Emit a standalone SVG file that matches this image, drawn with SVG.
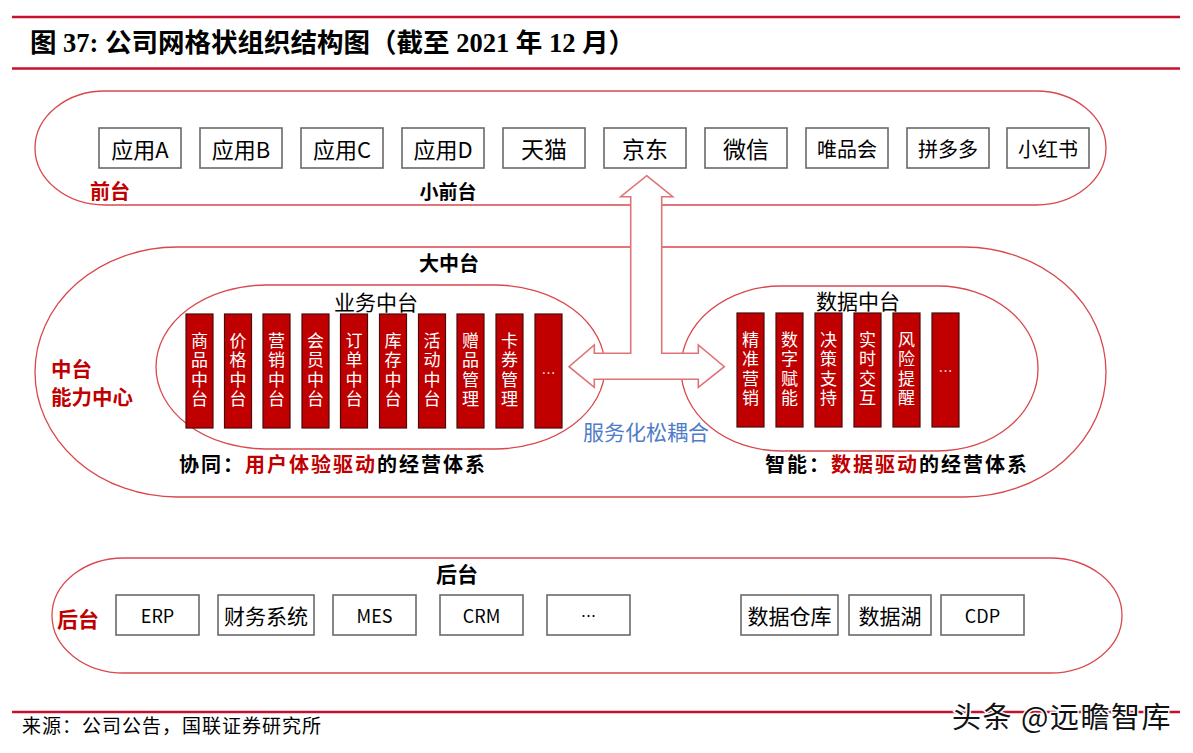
<svg xmlns="http://www.w3.org/2000/svg" width="1193" height="753" viewBox="0 0 1193 753">
<style>
.rule{stroke:#C8102E;stroke-width:2.5}
.stad{fill:none;stroke:#D9484C;stroke-width:1.3}
.box{fill:#fff;stroke:#6a6a6a;stroke-width:1.6}
.bar{fill:#C00000;stroke:#4a0a0a;stroke-width:1.2}
.t{font-family:"Noto Sans CJK SC","Noto Sans",sans-serif;fill:#000;text-anchor:middle;dominant-baseline:central}
.vt{font-family:"Noto Sans CJK SC","Noto Sans",sans-serif;fill:#fff;font-size:17px;writing-mode:vertical-rl;text-anchor:middle;letter-spacing:2.5px}
.dots{font-family:"Noto Sans CJK SC","Noto Sans",sans-serif;fill:#fff;font-size:14px;text-anchor:middle;dominant-baseline:central}
.lbl{font-family:"Noto Sans CJK SC","Noto Sans",sans-serif;font-weight:bold;fill:#000;dominant-baseline:central}
.red{fill:#C00000}
.arrow{fill:#fff;stroke:#E07377;stroke-width:1.6;stroke-linejoin:miter}
</style>
<rect width="1193" height="753" fill="#fff"/>
<g id="title">
<line class="rule" x1="12" y1="17" x2="1180" y2="17"/>
<text x="30" y="52" font-family="'Liberation Serif','Noto Sans CJK SC',serif" font-weight="bold" font-size="26.5" fill="#000">图 37: 公司网格状组织结构图（截至 2021 年 12 月）</text>
<line class="rule" x1="12" y1="68.5" x2="1180" y2="68.5"/>
</g>
<g id="front">
<rect class="stad" x="35" y="91" width="1071" height="114" rx="70" ry="57"/>
<text class="lbl red" x="90" y="190" font-size="20">前台</text>
<text class="lbl" x="448" y="190" font-size="19" text-anchor="middle">小前台</text>
</g>
<g id="middle">
<rect class="stad" x="35" y="247" width="1071" height="250" rx="142" ry="125"/>
<text class="lbl" x="449" y="262" font-size="20" text-anchor="middle">大中台</text>
<text class="lbl red" x="51" y="368" font-size="20.5">中台</text>
<text class="lbl red" x="51" y="396" font-size="20.5">能力中心</text>
</g>
<g id="back">
<rect class="stad" x="52" y="558" width="1070" height="115" rx="72" ry="57.5"/>
<text class="lbl" x="457" y="573" font-size="21" text-anchor="middle">后台</text>
<text class="lbl red" x="57" y="618" font-size="21">后台</text>
</g>
<g id="biz">
<rect class="stad" x="156" y="285" width="449" height="164" rx="110" ry="82"/>
<text class="t" x="376" y="301" font-size="21">业务中台</text>
</g>
<g id="data">
<rect class="stad" x="681" y="286" width="357" height="165" rx="100" ry="82"/>
<text class="t" x="858" y="300" font-size="21">数据中台</text>
</g>
<g id="connectors">
<polygon class="arrow" points="646.7,175.7 672.7,196.7 661.7,196.7 661.7,353.3 698.3,353.3 698.3,345 724.3,366.7 698.3,387.3 698.3,379.3 594.3,379.3 594.3,387.3 569,366.7 594.3,345 594.3,353.3 630.7,353.3 630.7,196.7 620.7,196.7"/>
<text x="646" y="431" font-family="'Noto Sans CJK SC',sans-serif" font-size="21" fill="#4F7CC9" text-anchor="middle" dominant-baseline="central">服务化松耦合</text>
</g>
<g id="front-apps">
<g id="app-a"><rect class="box" x="99" y="128" width="82" height="40"/><text class="t" x="140" y="148" font-size="22">应用A</text></g>
<g id="app-b"><rect class="box" x="200" y="128" width="82" height="40"/><text class="t" x="241" y="148" font-size="22">应用B</text></g>
<g id="app-c"><rect class="box" x="301" y="128" width="82" height="40"/><text class="t" x="342" y="148" font-size="22">应用C</text></g>
<g id="app-d"><rect class="box" x="402" y="128" width="82" height="40"/><text class="t" x="443" y="148" font-size="22">应用D</text></g>
<g id="tmall"><rect class="box" x="503" y="128" width="82" height="40"/><text class="t" x="544" y="148" font-size="23">天猫</text></g>
<g id="jd"><rect class="box" x="604" y="128" width="82" height="40"/><text class="t" x="645" y="148" font-size="23">京东</text></g>
<g id="wechat"><rect class="box" x="705" y="128" width="82" height="40"/><text class="t" x="746" y="148" font-size="23">微信</text></g>
<g id="vip"><rect class="box" x="806" y="128" width="82" height="40"/><text class="t" x="847" y="148" font-size="20">唯品会</text></g>
<g id="pdd"><rect class="box" x="907" y="128" width="82" height="40"/><text class="t" x="948" y="148" font-size="20">拼多多</text></g>
<g id="xhs"><rect class="box" x="1007" y="128" width="82" height="40"/><text class="t" x="1048" y="148" font-size="20">小红书</text></g>
</g>
<g id="biz-bars">
<g id="b1"><rect class="bar" x="186" y="314" width="27" height="114"/><text class="vt" x="199.5" y="371">商品中台</text></g>
<g id="b2"><rect class="bar" x="224.5" y="314" width="27" height="114"/><text class="vt" x="238" y="371">价格中台</text></g>
<g id="b3"><rect class="bar" x="263" y="314" width="27" height="114"/><text class="vt" x="276.5" y="371">营销中台</text></g>
<g id="b4"><rect class="bar" x="302" y="314" width="27" height="114"/><text class="vt" x="315.5" y="371">会员中台</text></g>
<g id="b5"><rect class="bar" x="340.5" y="314" width="27" height="114"/><text class="vt" x="354" y="371">订单中台</text></g>
<g id="b6"><rect class="bar" x="379.5" y="314" width="27" height="114"/><text class="vt" x="393" y="371">库存中台</text></g>
<g id="b7"><rect class="bar" x="418.5" y="314" width="27" height="114"/><text class="vt" x="432" y="371">活动中台</text></g>
<g id="b8"><rect class="bar" x="457" y="314" width="27" height="114"/><text class="vt" x="470.5" y="371">赠品管理</text></g>
<g id="b9"><rect class="bar" x="496" y="314" width="27" height="114"/><text class="vt" x="509.5" y="371">卡券管理</text></g>
<g id="b10"><rect class="bar" x="535" y="314" width="27" height="114"/><text class="dots" x="548.5" y="372">…</text></g>
</g>
<g id="data-bars">
<g id="d1"><rect class="bar" x="737" y="313" width="27" height="114"/><text class="vt" x="750.5" y="370">精准营销</text></g>
<g id="d2"><rect class="bar" x="776" y="313" width="27" height="114"/><text class="vt" x="789.5" y="370">数字赋能</text></g>
<g id="d3"><rect class="bar" x="815" y="313" width="27" height="114"/><text class="vt" x="828.5" y="370">决策支持</text></g>
<g id="d4"><rect class="bar" x="854" y="313" width="27" height="114"/><text class="vt" x="867.5" y="370">实时交互</text></g>
<g id="d5"><rect class="bar" x="893" y="313" width="27" height="114"/><text class="vt" x="906.5" y="370">风险提醒</text></g>
<g id="d6"><rect class="bar" x="932" y="313" width="27" height="114"/><text class="dots" x="945.5" y="370">…</text></g>
</g>
<g id="captions">
<text class="lbl" x="179" y="463" font-size="20" letter-spacing="2">协同：<tspan class="red">用户体验驱动</tspan>的经营体系</text>
<text class="lbl" x="765" y="463" font-size="20" letter-spacing="2">智能：<tspan class="red">数据驱动</tspan>的经营体系</text>
</g>
<g id="back-systems">
<g id="erp"><rect class="box" x="116" y="595" width="83" height="40"/><text class="t" x="157.5" y="615" font-size="18">ERP</text></g>
<g id="fin"><rect class="box" x="218" y="595" width="96" height="40"/><text class="t" x="266" y="615" font-size="21">财务系统</text></g>
<g id="mes"><rect class="box" x="333" y="595" width="83" height="40"/><text class="t" x="374.5" y="615" font-size="18">MES</text></g>
<g id="crm"><rect class="box" x="440" y="595" width="83" height="40"/><text class="t" x="481.5" y="615" font-size="18">CRM</text></g>
<g id="more"><rect class="box" x="547" y="595" width="83" height="40"/><text class="t" x="588.5" y="615" font-size="15">…</text></g>
<g id="dw"><rect class="box" x="741" y="595" width="97" height="40"/><text class="t" x="789.5" y="615" font-size="21">数据仓库</text></g>
<g id="lake"><rect class="box" x="849" y="595" width="82" height="40"/><text class="t" x="890" y="615" font-size="21">数据湖</text></g>
<g id="cdp"><rect class="box" x="941" y="595" width="83" height="40"/><text class="t" x="982.5" y="615" font-size="18">CDP</text></g>
</g>
<g id="footer">
<line class="rule" x1="12" y1="712" x2="1180" y2="712"/>
<text x="22" y="733" font-family="'Noto Sans CJK SC',sans-serif" font-size="19" letter-spacing="1" fill="#000">来源：公司公告，国联证券研究所</text>
<text x="952" y="728" font-family="'Noto Sans CJK SC',sans-serif" font-size="29" letter-spacing="1.5" fill="#111" stroke="#fff" stroke-width="3" paint-order="stroke">头条 @远瞻智库</text>
</g>
</svg>
